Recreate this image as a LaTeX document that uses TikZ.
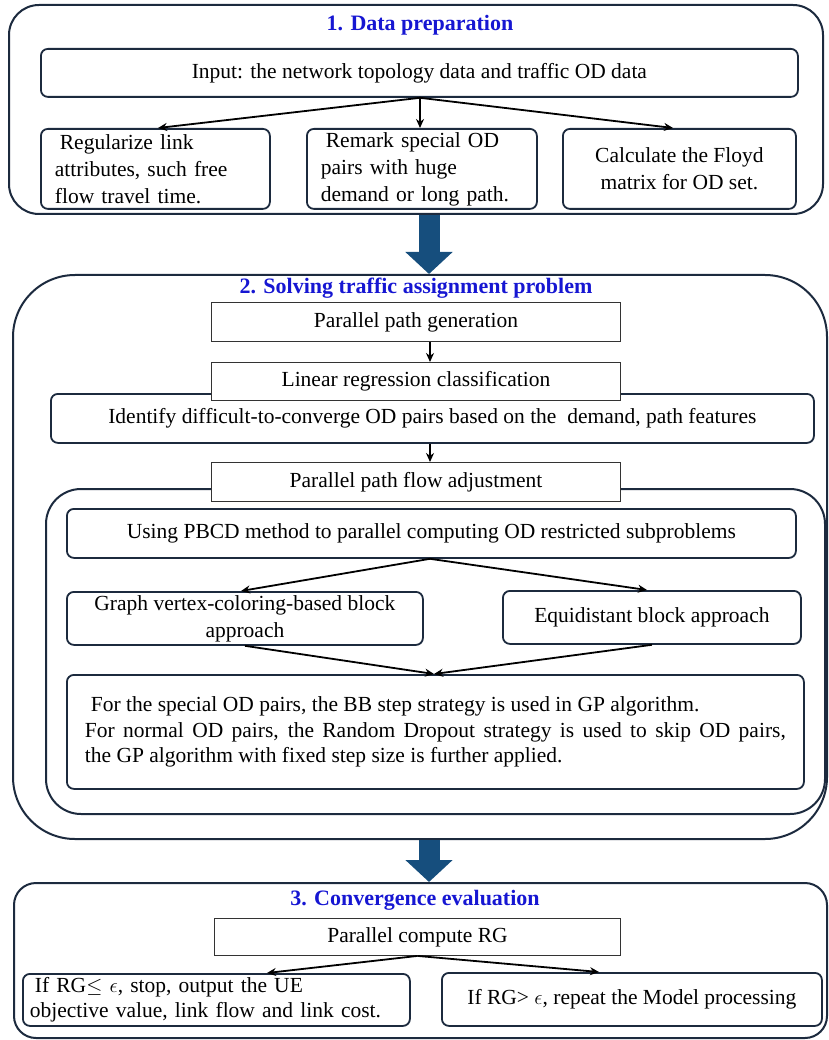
\documentclass[tikz,border=0pt]{standalone}
\usepackage{fontspec}
\setmainfont{Liberation Serif}
\usetikzlibrary{arrows.meta,calc}
\definecolor{navy}{RGB}{28,42,62}
\definecolor{bigblue}{RGB}{22,78,125}
\definecolor{ttl}{RGB}{22,22,210}
\begin{document}
\begin{tikzpicture}[x=1pt,y=-1pt,
  every node/.style={font=\fontsize{21.5}{25.5}\selectfont},
  wide/.style={font=\fontsize{21.5}{27}\selectfont},
  section/.style={draw=navy,line width=2pt,anchor=north west,inner sep=0pt},
  rbox/.style={draw=navy,line width=1.8pt,rounded corners=7pt,fill=white,anchor=north west,inner sep=0pt},
  sbox/.style={draw=black!80,line width=0.9pt,fill=white,anchor=north west,inner sep=0pt},
  ttlnode/.style={text=ttl,font=\fontsize{22}{26}\selectfont\bfseries,inner sep=0pt},
  arr/.style={draw=black,line width=1.8pt,-{Stealth[length=9pt,width=8pt]}},
  bigarrow/.style={draw=bigblue,line width=21pt,-{Triangle[width=46pt,length=22pt]}}
]
\useasboundingbox (0,0) rectangle (828,1040);
% ---------- Section 1
\node[section,rounded corners=30pt,minimum width=814,minimum height=209] (S1) at (8,4) {};
\node[ttlnode] (T1) at (420,25) {1. Data preparation};
\node[rbox,minimum width=757,minimum height=48] (inp) at (40,48) {Input: the network topology data and traffic OD data};
\node[rbox,wide,minimum width=229,minimum height=80,text width=201,align=left] (A) at (40,128)
  {\hspace*{5pt}Regularize link\\attributes, such free\\flow travel time.};
\node[rbox,wide,minimum width=230,minimum height=80,text width=202,align=left] (B) at (306,128)
  {\hspace*{5pt}Remark special OD\\pairs with huge\\demand or long path.};
\node[rbox,wide,minimum width=233,minimum height=80,align=center] (Cb) at (562,128)
  {Calculate the Floyd\\matrix for OD set.};
\coordinate (c0) at (420,0);
\coordinate (c1) at (158,0);
\coordinate (c3) at (673,0);
\draw[arr] (inp.south -| c0) -- (A.north -| c1);
\draw[arr] (inp.south -| c0) -- (B.north -| c0);
\draw[arr] (inp.south -| c0) -- (Cb.north -| c3);
% ---------- Section 2
\node[section,rounded corners=62pt,minimum width=814,minimum height=564] (S2) at (12,274) {};
\node[ttlnode] (T2) at (416,288) {2. Solving traffic assignment problem};
\node[sbox,minimum width=409,minimum height=39] (ppg) at (211,302) {Parallel path generation};
\node[rbox,minimum width=763,minimum height=49] (ident) at (50,393) {Identify difficult-to-converge OD pairs based on the\ \ demand, path features};
\node[sbox,minimum width=409,minimum height=38] (lin) at (211,362) {Linear regression classification};
\node[section,rounded corners=35pt,minimum width=779,minimum height=325] (inner) at (45,488) {};
\node[sbox,minimum width=409,minimum height=39] (ppfa) at (211,462) {Parallel path flow adjustment};
\node[rbox,minimum width=729,minimum height=49] (pbcd) at (66,508) {Using PBCD method to parallel computing OD restricted subproblems};
\node[rbox,wide,minimum width=356,minimum height=53,align=center] (graph) at (66,591) {Graph vertex-coloring-based block\\approach};
\node[rbox,minimum width=298,minimum height=53] (equi) at (502,590) {Equidistant block approach};
\node[rbox,minimum width=737,minimum height=114,text width=701,align=justify] (special) at (66,674)
  {\hspace*{6pt}For the special OD pairs, the BB step strategy is used in GP algorithm.\\
   For normal OD pairs, the Random Dropout strategy is used to skip OD pairs,\linebreak
   the GP algorithm with fixed step size is further applied.};
\coordinate (ax) at (430,0);
\coordinate (gx) at (241,0);
\coordinate (ex) at (647,0);
\coordinate (mx) at (434,0);
\draw[arr] (ppg.south -| ax) -- (lin.north -| ax);
\draw[arr] (ident.south -| ax) -- (ppfa.north -| ax);
\draw[arr] (pbcd.south -| ax) -- (graph.north -| gx);
\draw[arr] (pbcd.south -| ax) -- (equi.north -| ex);
\draw[arr] (graph.south) -- (special.north -| mx);
\draw[arr] (equi.south) -- (special.north -| mx);
% ---------- Section 3
\node[section,rounded corners=22pt,minimum width=813,minimum height=155] (S3) at (13,882) {};
\node[ttlnode] (T3) at (415,900) {3. Convergence evaluation};
\node[sbox,minimum width=406,minimum height=37] (pcrg) at (214,918) {Parallel compute RG};
\node[rbox,minimum width=387,minimum height=52,text width=373,align=left] (left) at (22,973)
  {\hspace*{5pt}If RG$\leq$ $\epsilon$, stop, output the UE\\objective value, link flow and link cost.};
\node[rbox,minimum width=380,minimum height=53] (right) at (441,972) {If RG> $\epsilon$, repeat the Model processing};
\coordinate (l3) at (267,0);
\coordinate (r3) at (599,0);
\draw[arr] (pcrg.south) -- (left.north -| l3);
\draw[arr] (pcrg.south) -- (right.north -| r3);
% ---------- big arrows
\coordinate (bx) at (429,0);
\draw[bigarrow] (S1.south -| bx) -- (S2.north -| bx);
\draw[bigarrow] (S2.south -| bx) -- (S3.north -| bx);
\end{tikzpicture}
\end{document}
